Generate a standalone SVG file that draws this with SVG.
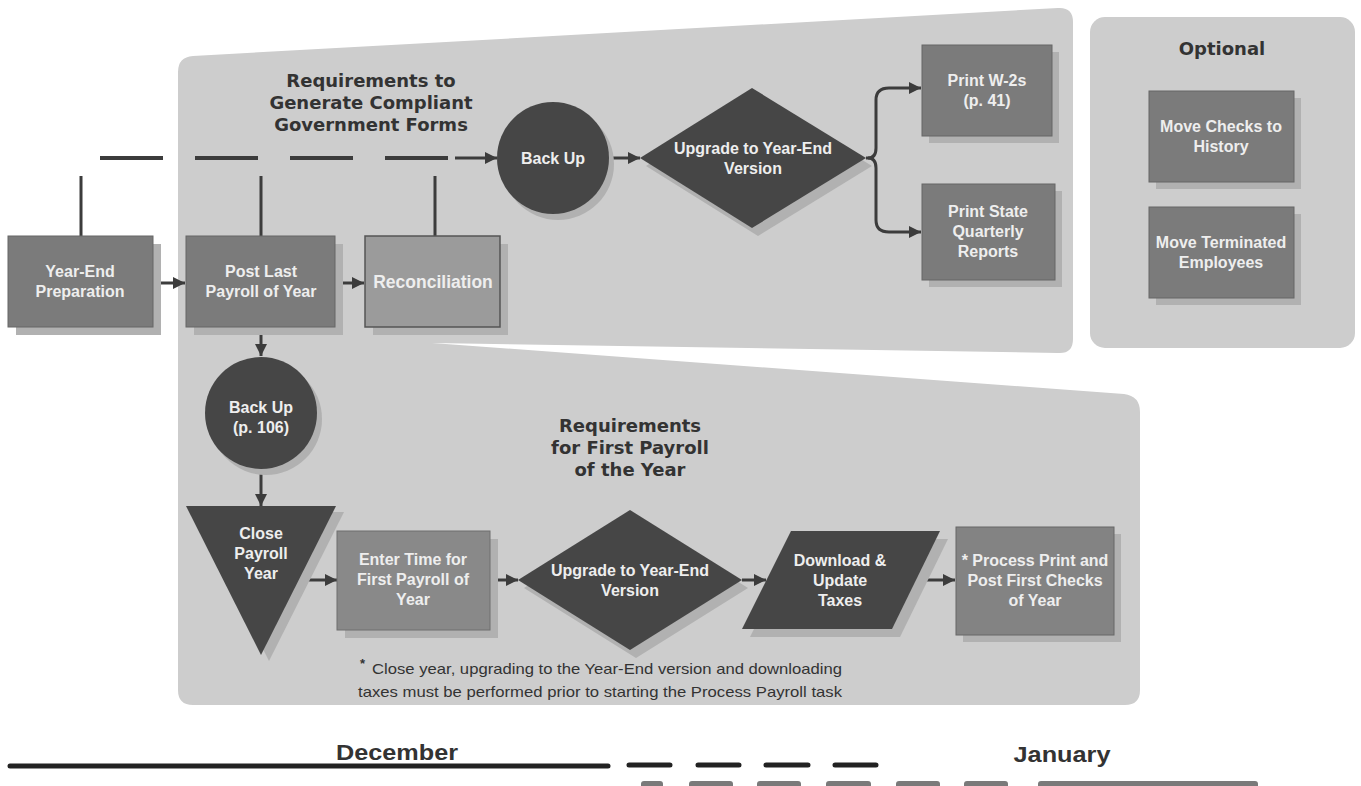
<svg xmlns="http://www.w3.org/2000/svg" width="1361" height="786" viewBox="0 0 1361 786">
<style>
.panel{fill:#cdcdcd}
.sh{fill:#b1b1b1}
.box{fill:#7b7b7b;stroke:#676767;stroke-width:1}
.rec{fill:#9b9b9b;stroke:#555;stroke-width:1.5}
.lt{fill:#898989;stroke:#6f6f6f;stroke-width:1}
.dark{fill:#464646}
.nt{font-family:"Liberation Sans",Arial,sans-serif;font-weight:bold;font-size:16px;fill:#eeeeee;text-anchor:middle}
.ttl{font-family:"DejaVu Sans",Verdana,sans-serif;font-weight:bold;font-size:18px;fill:#333;text-anchor:middle}
.note{font-family:"Liberation Sans",Arial,sans-serif;font-size:14.5px;fill:#333}
.mon{font-family:"Liberation Sans",Arial,sans-serif;font-weight:bold;font-size:22px;fill:#333;text-anchor:middle}
.conn{stroke:#3c3c3c;stroke-width:3;fill:none}
.dash{stroke:#3c3c3c;stroke-width:4;fill:none}
.tl{stroke:#222;stroke-width:5;fill:none;stroke-linecap:round}
.bar{fill:#7a7a7a}
</style>
<defs>
<marker id="ah" viewBox="0 0 10 10" refX="10" refY="5" markerWidth="4" markerHeight="4.2" orient="auto" markerUnits="strokeWidth">
<path d="M0,0 L10,5 L0,10 Z" fill="#3c3c3c"/>
</marker>
</defs>
<rect width="1361" height="786" fill="#ffffff"/>

<g id="panels">
<path class="panel" d="M178,72 Q178,57 193,56 L1058,8 Q1073,7 1073,22 L1073,339 Q1073,354 1058,353 L432,343 L1124,394 Q1140,396 1140,412 L1140,690 Q1140,705 1125,705 L193,705 Q178,705 178,690 Z"/>
<rect class="panel" x="1090" y="17" width="265" height="331" rx="15"/>
</g>

<g id="titles">
<text class="ttl" x="371" y="87">Requirements to</text>
<text class="ttl" x="371" y="109">Generate Compliant</text>
<text class="ttl" x="371" y="131">Government Forms</text>
<text class="ttl" x="630" y="432">Requirements</text>
<text class="ttl" x="630" y="454">for First Payroll</text>
<text class="ttl" x="630" y="476">of the Year</text>
<text class="ttl" x="1222" y="55">Optional</text>
</g>

<g id="connectors">
<path class="conn" d="M81,176 V236 M261,176 V236 M435,176 V236"/>
<path class="dash" d="M100,158 H163 M195,158 H258 M290,158 H353 M385,158 H448"/>
<path class="dash" d="M455,158 H497" marker-end="url(#ah)" style="stroke-width:3"/>
<path class="conn" d="M153,283 H185" marker-end="url(#ah)"/>
<path class="conn" d="M335,283 H364" marker-end="url(#ah)"/>
<path class="conn" d="M609,158 H640" marker-end="url(#ah)"/>
<path class="conn" d="M866,158 H868 Q876,158 876,148 V100 Q876,88 889,88 H921" marker-end="url(#ah)"/>
<path class="conn" d="M868,158 Q876,158 876,168 V220 Q876,232 889,232 H921" marker-end="url(#ah)"/>
<path class="conn" d="M261,327 V356" marker-end="url(#ah)"/>
<path class="conn" d="M261,469 V506" marker-end="url(#ah)"/>
<path class="conn" d="M300,580 H337" marker-end="url(#ah)"/>
<path class="conn" d="M490,580 H518" marker-end="url(#ah)"/>
<path class="conn" d="M742,580 H766" marker-end="url(#ah)"/>
<path class="conn" d="M916,580 H955" marker-end="url(#ah)"/>
</g>

<g id="year-end-preparation">
<rect class="sh" x="16" y="244" width="145" height="91"/>
<rect class="box" x="8" y="236" width="145" height="91"/>
<text class="nt" x="80" y="277">Year-End</text>
<text class="nt" x="80" y="297">Preparation</text>
</g>

<g id="post-last-payroll">
<rect class="sh" x="194" y="244" width="149" height="91"/>
<rect class="box" x="186" y="236" width="149" height="91"/>
<text class="nt" x="261" y="277">Post Last</text>
<text class="nt" x="261" y="297">Payroll of Year</text>
</g>

<g id="reconciliation">
<rect class="sh" x="373" y="244" width="135" height="91"/>
<rect class="rec" x="365" y="236" width="135" height="91"/>
<text class="nt" x="433" y="288" style="font-size:17.5px">Reconciliation</text>
</g>

<g id="back-up-top">
<circle class="sh" cx="558" cy="164" r="56"/>
<circle class="dark" cx="553" cy="158" r="56"/>
<text class="nt" x="553" y="164">Back Up</text>
</g>

<g id="upgrade-top">
<polygon class="sh" points="646,166 758,96 872,166 758,236"/>
<polygon class="dark" points="640,158 752,88 866,158 752,228"/>
<text class="nt" x="753" y="154">Upgrade to Year-End</text>
<text class="nt" x="753" y="174">Version</text>
</g>

<g id="print-w2s">
<rect class="sh" x="929" y="52" width="130" height="91"/>
<rect class="box" x="922" y="45" width="130" height="91"/>
<text class="nt" x="987" y="86">Print W-2s</text>
<text class="nt" x="987" y="106">(p. 41)</text>
</g>

<g id="print-state-reports">
<rect class="sh" x="929" y="191" width="133" height="96"/>
<rect class="box" x="922" y="184" width="133" height="96"/>
<text class="nt" x="988" y="217">Print State</text>
<text class="nt" x="988" y="237">Quarterly</text>
<text class="nt" x="988" y="257">Reports</text>
</g>

<g id="move-checks">
<rect class="sh" x="1156" y="98" width="145" height="91"/>
<rect class="box" x="1149" y="91" width="145" height="91"/>
<text class="nt" x="1221" y="132">Move Checks to</text>
<text class="nt" x="1221" y="152">History</text>
</g>

<g id="move-terminated">
<rect class="sh" x="1156" y="214" width="145" height="91"/>
<rect class="box" x="1149" y="207" width="145" height="91"/>
<text class="nt" x="1221" y="248">Move Terminated</text>
<text class="nt" x="1221" y="268">Employees</text>
</g>

<g id="back-up-106">
<circle class="sh" cx="266" cy="419" r="56"/>
<circle class="dark" cx="261" cy="413" r="56"/>
<text class="nt" x="261" y="413">Back Up</text>
<text class="nt" x="261" y="433">(p. 106)</text>
</g>

<g id="close-payroll-year">
<polygon class="sh" points="194,512 344,512 269,661"/>
<polygon class="dark" points="186,506 336,506 261,655"/>
<text class="nt" x="261" y="539">Close</text>
<text class="nt" x="261" y="559">Payroll</text>
<text class="nt" x="261" y="579">Year</text>
</g>

<g id="enter-time">
<rect class="sh" x="345" y="539" width="153" height="99"/>
<rect class="lt" x="337" y="531" width="153" height="99"/>
<text class="nt" x="413" y="565">Enter Time for</text>
<text class="nt" x="413" y="585">First Payroll of</text>
<text class="nt" x="413" y="605">Year</text>
</g>

<g id="upgrade-bottom">
<polygon class="sh" points="524,588 636,518 748,588 636,658"/>
<polygon class="dark" points="518,580 630,510 742,580 630,650"/>
<text class="nt" x="630" y="576">Upgrade to Year-End</text>
<text class="nt" x="630" y="596">Version</text>
</g>

<g id="download-taxes">
<polygon class="sh" points="799,539 948,539 900,637 750,637"/>
<polygon class="dark" points="791,531 940,531 892,629 742,629"/>
<text class="nt" x="840" y="566">Download &amp;</text>
<text class="nt" x="840" y="586">Update</text>
<text class="nt" x="840" y="606">Taxes</text>
</g>

<g id="process-first-checks">
<rect class="sh" x="963" y="534" width="158" height="108"/>
<rect class="box" x="956" y="527" width="158" height="108" style="fill:#838383"/>
<text class="nt" x="1035" y="566">* Process Print and</text>
<text class="nt" x="1035" y="586">Post First Checks</text>
<text class="nt" x="1035" y="606">of Year</text>
</g>

<g id="footnote">
<text class="note" x="360" y="668" style="font-size:13px;font-weight:bold">*</text>
<text class="note" x="372" y="674" textLength="470" lengthAdjust="spacingAndGlyphs">Close year, upgrading to the Year-End version and downloading</text>
<text class="note" x="358" y="697" textLength="484" lengthAdjust="spacingAndGlyphs">taxes must be performed prior to starting the Process Payroll task</text>
</g>

<g id="timeline">
<text class="mon" x="397" y="760" textLength="122" lengthAdjust="spacingAndGlyphs">December</text>
<text class="mon" x="1062" y="762" textLength="97" lengthAdjust="spacingAndGlyphs">January</text>
<path class="tl" d="M10,766 H608"/>
<path class="tl" d="M629,765 H670 M698,765 H739 M766,765 H808 M835,765 H876"/>
<rect class="bar" x="641" y="781" width="22" height="10" rx="3"/>
<rect class="bar" x="689" y="781" width="44" height="10" rx="3"/>
<rect class="bar" x="757" y="781" width="44" height="10" rx="3"/>
<rect class="bar" x="826" y="781" width="45" height="10" rx="3"/>
<rect class="bar" x="896" y="781" width="44" height="10" rx="3"/>
<rect class="bar" x="964" y="781" width="44" height="10" rx="3"/>
<rect class="bar" x="1038" y="781" width="220" height="10" rx="3"/>
</g>
</svg>
